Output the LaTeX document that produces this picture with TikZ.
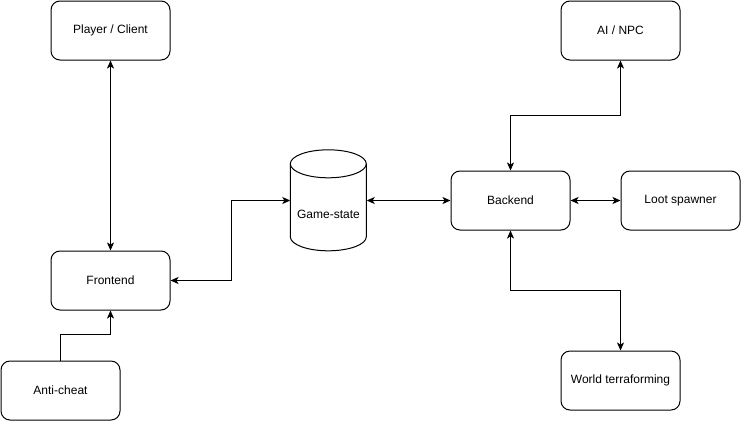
\documentclass[tikz,border=0pt]{standalone}
\usepackage{fontspec}
\setmainfont{Liberation Sans}
\usetikzlibrary{arrows.meta}
\tikzset{
  box/.style={draw, rectangle, rounded corners=9pt, line width=1pt,
    minimum width=119pt, minimum height=59pt, font=\fontsize{12}{14}\selectfont},
  storearea/.style={rectangle, inner sep=0pt, minimum width=76pt, minimum height=101pt},
  link/.style={line width=1pt},
}
\begin{document}
\begin{tikzpicture}[x=1pt, y=-1pt, >={Stealth[length=8pt,width=7pt,inset=2pt]}]
\useasboundingbox (0,0) rectangle (741,421);
\node[box] (player) at (110.5,30.5) {Player / Client};
\node[box] (ai) at (620.5,30.5) {AI / NPC};
\node[box] (be) at (510.5,200.5) {Backend};
\node[box] (loot) at (680.5,200.5) {Loot spawner};
\node[box] (fe) at (110.5,280.5) {Frontend};
\node[box] (ac) at (60.5,390.5) {Anti-cheat};
\node[box] (world) at (620.5,380.5) {World terraforming};

% game-state store
\node[storearea] (gs) at (328.5,200.5) {};
\draw[link] (gs.north west) ++(0,14) arc[start angle=180, end angle=-180, x radius=38, y radius=-14];
\draw[link] (gs.north west) ++(0,14) -- ++(0,73) arc[start angle=180, end angle=360, x radius=38, y radius=-14] -- ++(0,-73);
\node[font=\fontsize{12}{14}\selectfont] (gslabel) at (328.5,214) {Game-state};

\draw[<->, link] (player) -- (fe);
\draw[<->, link] (fe.east) -- ++(61,0) |- (gs.west);
\draw[<->, link] (gs.east) -- (be.west);
\draw[<->, link] (be.east) -- (loot.west);
\draw[<->, link] (be.north) -- ++(0,-55) -| (ai.south);
\draw[<->, link] (be.south) -- ++(0,60) -| (world.north);
\draw[->, link] (ac.north) -- ++(0,-26) -| (fe.south);
\end{tikzpicture}
\end{document}
